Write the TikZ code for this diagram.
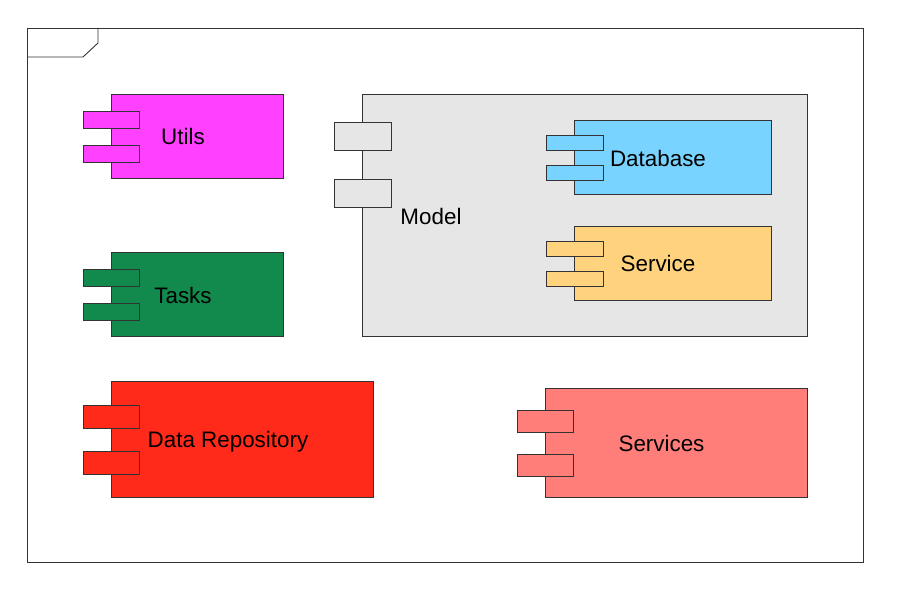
\documentclass[tikz,border=0pt]{standalone}
\usepackage{fontspec}
\setmainfont{Liberation Sans}
\definecolor{cmag}{HTML}{FF40FF}
\definecolor{cgreen}{HTML}{128A4E}
\definecolor{cred}{HTML}{FF2A1A}
\definecolor{csalmon}{HTML}{FF7E79}
\definecolor{cgray}{HTML}{E6E6E6}
\definecolor{cblue}{HTML}{79D3FF}
\definecolor{corange}{HTML}{FFD37E}
\definecolor{cline}{HTML}{333333}
\tikzset{
  part/.style={draw=cline,line width=0.9pt,inner sep=0pt,outer sep=0pt},
  lbl/.style={font=\fontsize{22.4}{26}\selectfont,text=black,inner sep=0pt},
}
% name, colour, x1, y1, x2, y2, tab x1, tab x2, tab height, tab1 mid y, tab2 mid y
\newcommand{\compbox}[9]{%
  \node[part,fill=#2,minimum width={#5-#3},minimum height={#6-#4},anchor=north west] (#1) at (#3,#4) {};
  \compbtabs{#1}{#2}{#7}{#8}{#9}}
\newcommand{\compbtabs}[5]{%
  \def\cname{#1}\def\ccol{#2}\def\tabl{#3}\def\tabr{#4}\def\tabh{#5}\compbtabsrest}
\newcommand{\compbtabsrest}[2]{%
  \node[part,fill=\ccol,minimum width={\tabr-\tabl},minimum height={\tabh},anchor=west] (\cname-a) at (\tabl,#1) {};
  \node[part,fill=\ccol,minimum width={\tabr-\tabl},minimum height={\tabh},anchor=west] (\cname-b) at (\tabl,#2) {};}
\begin{document}
\begin{tikzpicture}[x=1pt,y=-1pt]
\useasboundingbox (0,0) rectangle (900,593);
\fill[white] (0,0) rectangle (900,593);
\node[part,draw=cline,fill=white,minimum width=836,minimum height=534,anchor=north west] (frame) at (27,28) {};
\coordinate (fa) at (98,28);
\coordinate (fb) at (98,43);
\coordinate (fc) at (83,57);
\coordinate (fd) at (27,57);
\draw[cline,line width=0.9pt] (fa) -- (fb) -- (fc) -- (fd);

\compbox{utils}{cmag}{111}{94}{283}{178}{83}{139}{17}{119.5}{153.5}
\compbox{tasks}{cgreen}{111}{252}{283}{336}{83}{139}{17}{277.5}{311.5}
\compbox{data}{cred}{111}{381}{373}{497}{83}{139}{23}{416.5}{462.5}
\compbox{services}{csalmon}{545}{388}{807}{497}{517}{573}{22}{421}{465}
\compbox{model}{cgray}{362}{94}{807}{336}{334}{391}{28}{136}{193}
\compbox{database}{cblue}{574}{120}{771}{194}{546}{603}{15}{142.5}{172.5}
\compbox{service}{corange}{574}{226}{771}{300}{546}{603}{15}{248.5}{278.5}

\node[lbl] (lutils) at (183,136.5) {Utils};
\node[lbl] (ltasks) at (183,295.5) {Tasks};
\node[lbl] (ldata) at (228,441.5) {Data Repository};
\node[lbl] (lservices) at (661.5,443) {Services};
\node[lbl] (lmodel) at (431,216.5) {Model};
\node[lbl] (ldatabase) at (658,158.5) {Database};
\node[lbl] (lservice) at (658,263.5) {Service};
\end{tikzpicture}
\end{document}
